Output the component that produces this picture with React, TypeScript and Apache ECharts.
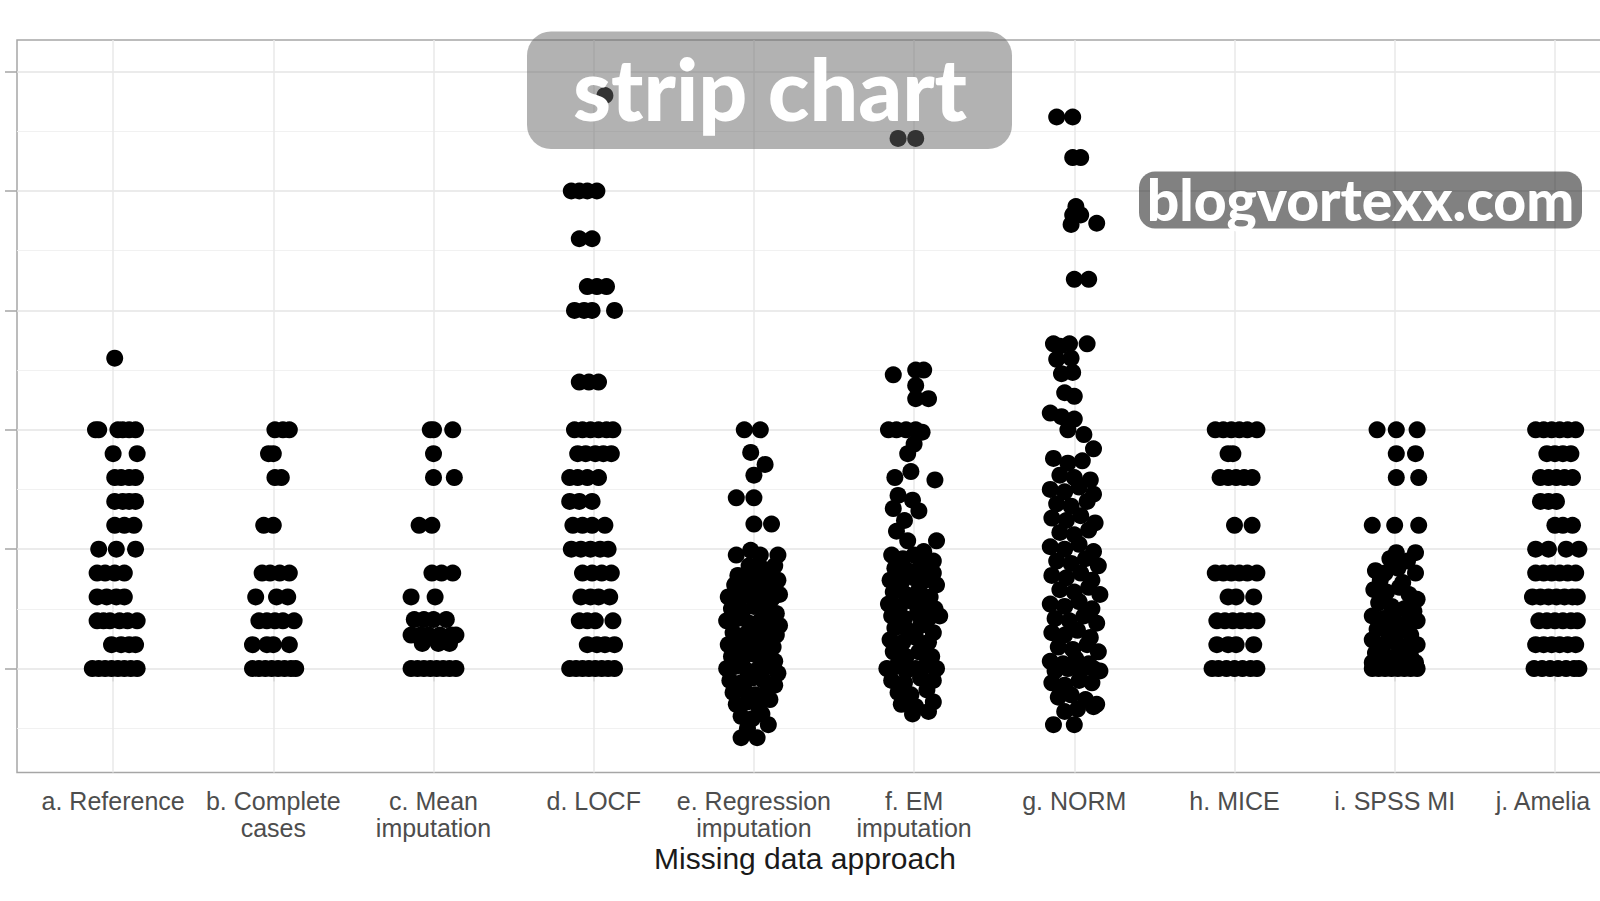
import React, { useEffect, useRef } from "react";
import * as echarts from "echarts";

// ---------- data (jitter in hundredths of a category, value on y) ----------
const CATEGORY_LABELS = [
  "a. Reference",
  "b. Complete\ncases",
  "c. Mean\nimputation",
  "d. LOCF",
  "e. Regression\nimputation",
  "f. EM\nimputation",
  "g. NORM",
  "h. MICE",
  "i. SPSS MI",
  "j. Amelia",
];
const X_TICKS = [1, 2, 3, 4, 5, 6, 7, 8, 9, 10];
const Y_MAJOR = [0, 1, 2, 3, 4, 5];
const Y_MINOR = [-0.5, 0.5, 1.5, 2.5, 3.5, 4.5];
const X_TITLE = "Missing data approach";
const TITLE = "strip chart";
const WATERMARK = "blogvortexx.com";

type Row = [number, number[]];
type Pt = [number, number];

const refRows: Row[] = [
  [2.6, [1]],
  [2.0, [-11, -9, 3, 6, 10, 14]],
  [1.8, [0, 15]],
  [1.6, [1, 5, 10, 14]],
  [1.4, [1, 6, 10, 14]],
  [1.2, [1, 7, 13]],
  [1.0, [-9, 2, 14]],
  [0.8, [-10, -5, 1, 7]],
  [0.6, [-10, -4, 2, 7]],
  [0.4, [-10, -6, -2, 4, 9, 15]],
  [0.2, [-1, 5, 10, 14]],
  [0.0, [-13, -9, -5, -1, 3, 7, 11, 15]],
];

const completeRows: Row[] = [
  [2.0, [1, 6, 10]],
  [1.8, [-3, 0]],
  [1.6, [1, 5]],
  [1.2, [-6, 0]],
  [0.8, [-7, -2, 4, 10]],
  [0.6, [-11, 2, 9]],
  [0.4, [-9, -4, 1, 6, 13]],
  [0.2, [-13, -4, 0, 10]],
  [0.0, [-13, -9, -5, -1, 3, 7, 11, 14]],
];

const meanRows: Row[] = [
  [2.0, [-2, 0, 12]],
  [1.8, [0]],
  [1.6, [0, 13]],
  [1.2, [-9, -1]],
  [0.8, [-1, 5, 12]],
  [0.6, [-14, 1]],
  [0.41, [-12, -6, 0, 8]],
  [0.28, [-14, -8, -3, 4, 11, 14]],
  [0.21, [-7, 3, 10]],
  [0.0, [-14, -10, -6, -2, 2, 6, 10, 14]],
];

const locfRows: Row[] = [
  [4.8, [7]],
  [4.0, [-14, -9, -4, 2]],
  [3.6, [-9, -1]],
  [3.2, [-4, 2, 8]],
  [3.0, [-12, -6, -1, 13]],
  [2.4, [-9, -3, 3]],
  [2.0, [-12, -7, -2, 3, 8, 12]],
  [1.8, [-10, -5, 1, 6, 11]],
  [1.6, [-15, -10, -4, 3]],
  [1.4, [-15, -9, -1]],
  [1.2, [-13, -7, -1, 7]],
  [1.0, [-14, -8, -2, 4, 9]],
  [0.8, [-7, -1, 5, 11]],
  [0.6, [-8, -2, 3, 10]],
  [0.4, [-9, -4, 1, 12]],
  [0.2, [-4, 2, 7, 13]],
  [0.0, [-15, -11, -7, -3, 1, 5, 9, 13]],
];

const regressionPts: Pt[] = [
  [-6, 2.0], [4, 2.0], [-2, 1.81], [7, 1.71], [0, 1.62], [-11, 1.43], [0, 1.43],
  [0, 1.21], [11, 1.21],
  [-11, 0.95], [-2, 0.99], [4, 0.95], [15, 0.95], [-3, 0.86], [5, 0.84], [13, 0.86],
  [-10, 0.78], [-4, 0.76], [3, 0.78], [10, 0.8], [15, 0.74],
  [-12, 0.7], [-6, 0.68], [0, 0.72], [6, 0.7], [12, 0.66],
  [-16, 0.6], [-9, 0.58], [-2, 0.62], [5, 0.6], [11, 0.58], [16, 0.62],
  [-14, 0.5], [-7, 0.48], [0, 0.52], [8, 0.5], [14, 0.46],
  [-17, 0.4], [-10, 0.42], [-3, 0.38], [4, 0.4], [11, 0.42], [16, 0.36],
  [-13, 0.3], [-6, 0.28], [1, 0.32], [8, 0.3], [14, 0.28],
  [-16, 0.2], [-9, 0.18], [-2, 0.22], [5, 0.2], [12, 0.18],
  [-14, 0.1], [-7, 0.08], [0, 0.12], [7, 0.1], [13, 0.06],
  [-17, 0.0], [-11, 0.02], [-4, -0.02], [3, 0.0], [10, 0.02], [15, -0.04],
  [-15, -0.1], [-8, -0.12], [-1, -0.08], [6, -0.1], [13, -0.14],
  [-13, -0.2], [-6, -0.18], [1, -0.22], [8, -0.2],
  [-11, -0.3], [-4, -0.28], [3, -0.32], [10, -0.26],
  [-8, -0.4], [-1, -0.42], [5, -0.38],
  [-4, -0.5], [9, -0.47],
  [-8, -0.58], [2, -0.58],
];

const emPts: Pt[] = [
  [-10, 4.44], [1, 4.44],
  [-13, 2.46], [1, 2.5], [6, 2.5], [1, 2.37], [1, 2.26], [9, 2.26],
  [-16, 2.0], [-11, 2.0], [-5, 2.0], [1, 2.0], [5, 1.98],
  [0, 1.88], [-4, 1.8],
  [-12, 1.6], [-2, 1.65], [13, 1.58],
  [-10, 1.45], [-1, 1.41],
  [-13, 1.34], [-6, 1.24], [3, 1.32],
  [14, 1.07], [-11, 1.15], [-4, 1.07], [6, 0.98],
  [-14, 0.95], [-7, 0.92], [0, 0.95], [12, 0.9],
  [-12, 0.84], [-4, 0.82], [4, 0.86], [12, 0.8],
  [-15, 0.74], [-8, 0.72], [0, 0.76], [7, 0.74], [14, 0.7],
  [-13, 0.64], [-5, 0.62], [3, 0.66], [10, 0.6],
  [-16, 0.54], [-9, 0.52], [-1, 0.56], [6, 0.54], [13, 0.5],
  [-14, 0.44], [-6, 0.42], [2, 0.46], [9, 0.42], [16, 0.44],
  [-12, 0.34], [-4, 0.32], [4, 0.36], [12, 0.3],
  [-15, 0.24], [-7, 0.22], [1, 0.26], [9, 0.22],
  [-13, 0.14], [-5, 0.1], [3, 0.14], [11, 0.1],
  [-17, 0.0], [-11, 0.02], [-5, -0.02], [1, 0.0], [7, 0.02], [14, 0.0],
  [-14, -0.1], [-6, -0.12], [4, -0.08], [12, -0.1],
  [-10, -0.2], [-2, -0.22], [8, -0.18],
  [-8, -0.3], [1, -0.32], [12, -0.28],
  [-1, -0.38], [9, -0.36],
];

const normPts: Pt[] = [
  [-11, 4.62], [-1, 4.62],
  [-1, 4.28], [4, 4.28],
  [1, 3.87], [-1, 3.8], [4, 3.8], [-2, 3.72], [14, 3.73],
  [0, 3.26], [9, 3.26],
  [-13, 2.72], [-9, 2.7], [-3, 2.72], [8, 2.72],
  [-11, 2.59], [-2, 2.6], [-8, 2.47], [-1, 2.48],
  [-6, 2.31], [0, 2.28],
  [-15, 2.14], [-8, 2.11], [0, 2.09],
  [-4, 2.0], [6, 1.96], [12, 1.84],
  [-13, 1.76], [-4, 1.72], [5, 1.74],
  [-9, 1.62], [0, 1.6], [10, 1.58],
  [-15, 1.5], [-6, 1.48], [3, 1.52], [12, 1.46],
  [-11, 1.38], [-2, 1.36], [8, 1.4],
  [-14, 1.26], [-5, 1.24], [4, 1.28], [13, 1.22],
  [-9, 1.14], [0, 1.12], [9, 1.16],
  [-15, 1.02], [-6, 1.0], [3, 1.04], [12, 0.98],
  [-11, 0.9], [-2, 0.88], [7, 0.92], [15, 0.86],
  [-14, 0.78], [-5, 0.76], [4, 0.8], [11, 0.74],
  [-9, 0.66], [0, 0.64], [9, 0.68], [16, 0.62],
  [-15, 0.54], [-6, 0.52], [3, 0.56], [11, 0.5],
  [-12, 0.42], [-3, 0.4], [6, 0.44], [14, 0.38],
  [-14, 0.3], [-6, 0.28], [2, 0.32], [10, 0.26],
  [-10, 0.18], [-1, 0.16], [8, 0.2], [15, 0.14],
  [-15, 0.06], [-7, 0.04], [1, 0.08], [9, 0.04],
  [-12, -0.02], [-4, 0.0], [4, -0.02], [12, 0.0], [16, -0.02],
  [-14, -0.12], [-6, -0.14], [3, -0.1], [11, -0.12],
  [-10, -0.24], [-2, -0.22], [7, -0.26], [14, -0.3],
  [-6, -0.36], [2, -0.34], [12, -0.32],
  [-13, -0.47], [0, -0.47],
];

const miceRows: Row[] = [
  [2.0, [-12, -7, -2, 3, 8, 14]],
  [1.8, [-4, -1]],
  [1.6, [-9, -4, 1, 6, 11]],
  [1.2, [0, 11]],
  [0.8, [-12, -7, -2, 3, 8, 14]],
  [0.6, [-4, 1, 12]],
  [0.4, [-11, -6, -1, 4, 9, 14]],
  [0.2, [-11, -4, 1, 12]],
  [0.0, [-14, -10, -5, 0, 5, 10, 14]],
];

const spssPts: Pt[] = [
  [-11, 2.0], [1, 2.0], [14, 2.0], [1, 1.8], [13, 1.8], [1, 1.6], [15, 1.6],
  [-14, 1.2], [0, 1.2], [15, 1.2],
  [1, 0.97], [13, 0.97], [-3, 0.92], [8, 0.9],
  [-12, 0.82], [-6, 0.8], [2, 0.84], [13, 0.8], [-9, 0.74], [5, 0.72],
  [-13, 0.66], [-5, 0.64], [3, 0.68], [9, 0.62], [14, 0.58],
  [-10, 0.55], [-2, 0.52], [6, 0.5], [12, 0.48],
  [-14, 0.44], [-7, 0.42], [0, 0.4], [8, 0.38], [14, 0.4],
  [-11, 0.33], [-4, 0.3], [3, 0.32], [10, 0.28],
  [-14, 0.24], [-7, 0.2], [1, 0.22], [8, 0.18], [14, 0.2],
  [-12, 0.13], [-5, 0.1], [2, 0.12], [10, 0.1],
  [-14, 0.05], [-8, 0.04], [-1, 0.06], [6, 0.04], [13, 0.05],
  [-14, 0], [-10, 0], [-6, 0], [-2, 0], [2, 0], [6, 0], [10, 0], [14, 0],
];

const ameliaRows: Row[] = [
  [2.0, [-12, -7, -2, 3, 8, 13]],
  [1.8, [-5, 0, 5, 10]],
  [1.6, [-9, -4, 1, 6, 11]],
  [1.4, [-9, -4, 1]],
  [1.2, [0, 5, 11]],
  [1.0, [-12, -4, 7, 15]],
  [0.8, [-12, -7, -2, 3, 8, 13]],
  [0.6, [-14, -9, -4, 1, 6, 11, 14]],
  [0.4, [-10, -5, 0, 5, 10, 14]],
  [0.2, [-12, -7, -2, 3, 8, 13]],
  [0.0, [-13, -8, -3, 2, 7, 12, 15]],
];

const rowsToPts = (rows: Row[]): Pt[] =>
  rows.flatMap(([v, js]) => js.map((j) => [j, v] as Pt));

const COLUMNS: Pt[][] = [
  rowsToPts(refRows),
  rowsToPts(completeRows),
  rowsToPts(meanRows),
  rowsToPts(locfRows),
  regressionPts,
  emPts,
  normPts,
  rowsToPts(miceRows),
  spssPts,
  rowsToPts(ameliaRows),
];

export default function App() {
  const ref = useRef<HTMLDivElement>(null);
  useEffect(() => {
    if (!ref.current) return;
    const chart = echarts.init(ref.current, undefined, { renderer: "svg" });
    const points = COLUMNS.flatMap((pts, i) =>
      pts.map(([j, v]) => [i + 1 + j / 100, v])
    );
    const font = "'Liberation Sans', Arial, sans-serif";
    const gridLines: any[] = [
      ...Y_MINOR.map((v) => ({ yAxis: v, lineStyle: { color: "#f1f1f1", width: 1, type: "solid" } })),
      ...Y_MAJOR.map((v) => ({ yAxis: v, lineStyle: { color: "#e4e4e4", width: 1.5, type: "solid" } })),
      ...X_TICKS.map((v) => ({ xAxis: v, lineStyle: { color: "#e9e9e9", width: 1.5, type: "solid" } })),
    ];
    const lastIdx = CATEGORY_LABELS.length;
    chart.setOption({
      animation: false,
      backgroundColor: "#ffffff",
      grid: {
        left: 17,
        top: 40,
        right: -51,
        bottom: 128.5,
        show: true,
        borderColor: "#a6a6a6",
        borderWidth: 1.5,
        containLabel: false,
        outerBoundsMode: "none",
      },
      xAxis: {
        type: "value",
        min: 0.4,
        max: 10.6,
        axisLine: { show: false },
        splitLine: { show: false },
        axisTick: {
          show: true,
          customValues: X_TICKS,
          length: 13,
          lineStyle: { color: "#a6a6a6", width: 1.5 },
        },
        axisLabel: {
          customValues: X_TICKS,
          formatter: (v: number) => {
            const k = Math.round(v);
            const s = CATEGORY_LABELS[k - 1] ?? "";
            return k === lastIdx ? `{edge|${s}}` : s;
          },
          fontSize: 25,
          lineHeight: 27,
          margin: 15,
          color: "#4d4d4d",
          fontFamily: font,
          rich: {
            edge: {
              fontSize: 25,
              lineHeight: 27,
              color: "#4d4d4d",
              fontFamily: font,
              padding: [0, 24, 0, 0],
            },
          },
        },
      },
      yAxis: {
        type: "value",
        min: -0.871,
        max: 5.265,
        axisLine: { show: false },
        splitLine: { show: false },
        axisTick: {
          show: true,
          customValues: Y_MAJOR,
          length: 12,
          lineStyle: { color: "#a6a6a6", width: 1.5 },
        },
        axisLabel: { show: false },
      },
      series: [
        {
          type: "scatter",
          data: [],
          z: 1,
          silent: true,
          markLine: {
            z: 1,
            silent: true,
            symbol: ["none", "none"],
            label: { show: false },
            animation: false,
            data: gridLines,
          },
        },
        {
          type: "scatter",
          data: points,
          z: 10,
          symbol: "circle",
          symbolSize: 17,
          itemStyle: { color: "#000000", opacity: 1 },
          silent: true,
        },
      ],
      graphic: [
        {
          type: "rect",
          z: 100,
          shape: { x: 527, y: 31.5, width: 485, height: 117.5, r: 24 },
          style: { fill: "rgba(102,102,102,0.5)" },
        },
        {
          type: "text",
          z: 101,
          x: 770,
          y: 87,
          style: {
            text: TITLE,
            fill: "#ffffff",
            font: "900 86px Lato, 'Open Sans', sans-serif",
            align: "center",
            verticalAlign: "middle",
          },
        },
        {
          type: "rect",
          z: 100,
          shape: { x: 1139, y: 171.5, width: 443, height: 57, r: 16 },
          style: { fill: "rgba(25,25,25,0.55)" },
        },
        {
          type: "text",
          z: 101,
          x: 1360.5,
          y: 199,
          style: {
            text: WATERMARK,
            fill: "#ffffff",
            font: "900 57px Lato, 'Open Sans', sans-serif",
            align: "center",
            verticalAlign: "middle",
          },
        },
        {
          type: "text",
          z: 50,
          x: 805,
          y: 858,
          style: {
            text: X_TITLE,
            fill: "#1a1a1a",
            font: `30px ${font}`,
            align: "center",
            verticalAlign: "middle",
          },
        },
      ],
    });
    return () => chart.dispose();
  }, []);
  return (
    <div
      ref={ref}
      style={{ position: "fixed", left: 0, top: 0, width: 1600, height: 901 }}
    />
  );
}
